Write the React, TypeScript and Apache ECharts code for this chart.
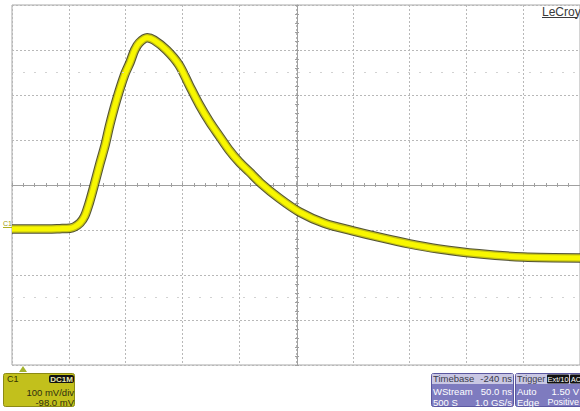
import React, { useEffect, useRef } from "react";
import * as echarts from "echarts";

// time in ns (50 ns/div), voltage in mV (100 mV/div, offset -98 mV)
const times = [0, 25, 42, 51, 55, 60, 64, 68, 72, 77, 82, 86, 92, 99, 104, 108, 112, 119, 125, 136, 147, 156, 165, 174, 183, 191, 200, 209, 219, 235, 253, 275, 300, 323, 350, 375, 411, 450, 500];
const volts = [0, 0, 1, 2, 5, 14, 29, 58, 94, 142, 187, 231, 287, 342, 371, 398, 414, 425, 420, 398, 365, 320, 276, 238, 205, 176, 149, 127, 102, 69, 38, 13, -4, -18, -33, -44, -55, -62, -64];
const faintRows = [348, -152];

const channelLabel = "C1";
const coupling = "DC1M";
const vdiv = "100 mV/div";
const offsetLabel = "-98.0 mV";
const timebaseRows = [["Timebase", "-240 ns"], ["WStream", "50.0 ns"], ["500 S", "1.0 GS/s"]];
const triggerRows = [["Trigger", ""], ["Auto", "1.50 V"], ["Edge", "Positive"]];

const FONT = "Liberation Sans, Arial, sans-serif";

export default function App() {
  const ref = useRef<HTMLDivElement>(null);
  useEffect(() => {
    document.body.style.margin = "0";
    const chart = echarts.init(ref.current!, null, { renderer: "svg" });
    const data = times.map((t, i) => [t, volts[i]]);
    const xBase = { type: "value", min: 0, max: 500, axisLabel: { show: false } };
    const yBase = { type: "value", min: -302, max: 498, axisLabel: { show: false } };
    const txt = (x: number, y: number, text: string, opts: any = {}) => ({
      type: "text",
      x,
      y,
      silent: true,
      style: { text, fill: opts.fill || "#333", fontSize: opts.size || 9.5, fontFamily: FONT, align: opts.align || "left", verticalAlign: "middle", fontWeight: opts.weight || "normal" },
      z: 10,
    });
    const lineSeries = (color: string, width: number, z: number, extra: any = {}) => ({
      type: "line",
      data,
      smooth: 0.3,
      showSymbol: false,
      symbol: "none",
      clip: true,
      lineStyle: { color, width, cap: "butt", join: "round" },
      z,
      silent: true,
      ...extra,
    });
    const rowsY = [378.5, 391, 402];
    const graphic: any[] = [
      txt(542, 11.5, "LeCroy", { size: 12, fill: "#3a3a3a" }),
      { type: "line", shape: { x1: 542, y1: 17.5, x2: 577, y2: 17.5 }, style: { stroke: "#3a3a3a", lineWidth: 1 }, silent: true },
      txt(3, 223, channelLabel, { size: 7, fill: "#9a9a10" }),
      { type: "line", shape: { x1: 3, y1: 227.5, x2: 12, y2: 227.5 }, style: { stroke: "#b0b020", lineWidth: 1 }, silent: true },
      { type: "polygon", shape: { points: [[19, 372], [27, 372], [23, 366]] }, style: { fill: "#a4b42c" }, silent: true },
      // channel box
      { type: "rect", shape: { x: 3.5, y: 373.5, width: 71, height: 33, r: 2 }, style: { fill: "#c2c01c", stroke: "#8c8a14", lineWidth: 1 }, silent: true },
      txt(7, 378.5, channelLabel, { size: 9, fill: "#333300" }),
      { type: "rect", shape: { x: 49, y: 375, width: 25, height: 8, r: 2 }, style: { fill: "#111111" }, silent: true, z: 9 },
      txt(61.5, 379, coupling, { size: 8, fill: "#e8e8b0", align: "center", weight: "bold" }),
      txt(74, 392, vdiv, { size: 9.5, fill: "#2e2e10", align: "right" }),
      txt(74, 402, offsetLabel, { size: 9.5, fill: "#2e2e10", align: "right" }),
      // timebase box
      { type: "rect", shape: { x: 431.5, y: 373.5, width: 82, height: 33, r: 2 }, style: { fill: "#7e7bbf", stroke: "#5a57a0", lineWidth: 1 }, silent: true },
      { type: "rect", shape: { x: 432, y: 374, width: 81, height: 10 }, style: { fill: "#c9c7e3" }, silent: true },
      // trigger box
      { type: "rect", shape: { x: 515.5, y: 373.5, width: 90, height: 33, r: 2 }, style: { fill: "#7e7bbf", stroke: "#5a57a0", lineWidth: 1 }, silent: true },
      { type: "rect", shape: { x: 516, y: 374, width: 90, height: 10 }, style: { fill: "#c9c7e3" }, silent: true },
      { type: "rect", shape: { x: 547, y: 374.5, width: 22, height: 9, r: 1 }, style: { fill: "#111111" }, silent: true, z: 9 },
      txt(558, 379, "Ext/10", { size: 7.5, fill: "#ffffff", align: "center" }),
      { type: "rect", shape: { x: 570, y: 374.5, width: 12, height: 9, r: 1 }, style: { fill: "#111111" }, silent: true, z: 9 },
      txt(571, 379, "AC", { size: 7, fill: "#ffffff" }),
    ];
    timebaseRows.forEach((r, i) => {
      const c = i === 0 ? "#3a3a4a" : "#ffffff";
      graphic.push(txt(433, rowsY[i], r[0], { fill: c }));
      graphic.push(txt(512, rowsY[i], r[1], { fill: c, align: "right" }));
    });
    triggerRows.forEach((r, i) => {
      const c = i === 0 ? "#3a3a4a" : "#ffffff";
      graphic.push(txt(517, rowsY[i], r[0], { fill: c, size: i === 0 ? 9 : 9.5 }));
      if (r[1]) graphic.push(txt(579, rowsY[i], r[1], { fill: c, align: "right", size: i === 2 ? 9 : 9.5 }));
    });

    chart.setOption({
      animation: false,
      backgroundColor: "#ffffff",
      grid: { left: 12, top: 5, width: 570, height: 360, show: true, borderColor: "#a8a8a8", borderWidth: 1, backgroundColor: "transparent" },
      xAxis: [
        { ...xBase, interval: 50, axisLine: { show: false }, axisTick: { show: false }, splitLine: { show: true, lineStyle: { color: "#b8b8b8", type: [2, 2], width: 1 } } },
        { ...xBase, interval: 10, position: "bottom", offset: -180, axisLine: { show: true, lineStyle: { color: "#a0a0a0", width: 1 } }, axisTick: { show: true, length: 2, lineStyle: { color: "#a0a0a0" } }, splitLine: { show: false } },
        { ...xBase, interval: 10, position: "bottom", offset: -180, axisLine: { show: false }, axisTick: { show: true, inside: true, length: 2, lineStyle: { color: "#a0a0a0" } }, splitLine: { show: false } },
      ],
      yAxis: [
        { ...yBase, interval: 100, axisLine: { show: false }, axisTick: { show: false }, splitLine: { show: true, lineStyle: { color: "#b8b8b8", type: [2, 2], width: 1 } } },
        { ...yBase, interval: 20, position: "left", offset: -285, axisLine: { show: true, lineStyle: { color: "#a0a0a0", width: 1 } }, axisTick: { show: true, length: 2, lineStyle: { color: "#a0a0a0" } }, splitLine: { show: false } },
        { ...yBase, interval: 20, position: "left", offset: -285, axisLine: { show: false }, axisTick: { show: true, inside: true, length: 2, lineStyle: { color: "#a0a0a0" } }, splitLine: { show: false } },
      ],
      series: [
        lineSeries("rgba(52,52,16,0.85)", 9.5, 2, {
          markLine: {
            silent: true,
            symbol: "none",
            label: { show: false },
            lineStyle: { color: "#d2d2d2", type: [2, 9], width: 1 },
            data: faintRows.map((v) => ({ yAxis: v })),
          },
        }),
        lineSeries("#c4c214", 7.5, 3),
        lineSeries("#f8f700", 5, 4),
      ],
      graphic,
    });
    return () => chart.dispose();
  }, []);
  return <div ref={ref} style={{ width: 580, height: 411 }} />;
}
